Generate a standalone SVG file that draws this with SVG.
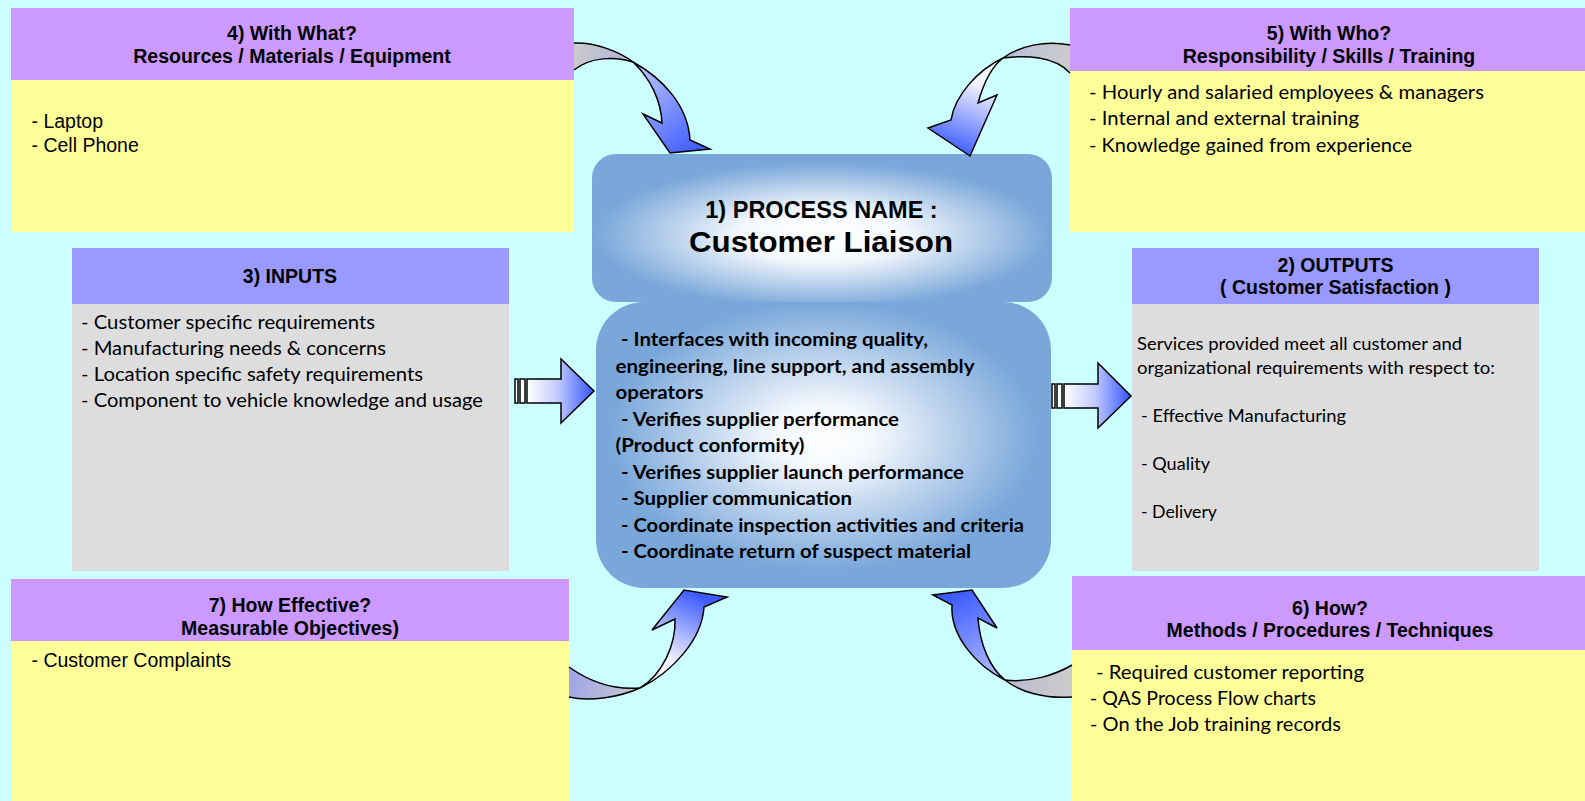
<svg xmlns="http://www.w3.org/2000/svg" width="1585" height="801" viewBox="0 0 1585 801">
<defs>
<style>
.hd{font-family:"Liberation Sans",Arial,sans-serif;font-weight:bold;font-size:19.5px;fill:#000;text-anchor:middle}
.ar{font-family:"Liberation Sans",Arial,sans-serif;font-size:19.5px;fill:#000}
.ca{font-family:Lato,"Open Sans",sans-serif;font-size:18.5px;fill:#000}
.cs{font-family:Lato,"Open Sans",sans-serif;font-size:17.5px;fill:#000}
.cb{font-family:Lato,"Open Sans",sans-serif;font-weight:bold;font-size:19px;fill:#000}
.ttl{font-family:"Liberation Sans",Arial,sans-serif;font-weight:bold;fill:#000;text-anchor:middle}
.purple{fill:#CC99FF}
.blueh{fill:#9999FF}
.yellow{fill:#FFFF99}
.grey{fill:#DDDDDD}
.arw{stroke:#000;stroke-width:1.5;stroke-linejoin:miter}
</style>
<radialGradient id="ng1" cx="0.5" cy="0.55" r="0.6">
<stop offset="0" stop-color="#FFFFFF"/>
<stop offset="0.3" stop-color="#F4F8FD"/>
<stop offset="0.82" stop-color="#7AA7DA"/>
<stop offset="1" stop-color="#7AA7DA"/>
</radialGradient>
<radialGradient id="ng2" cx="0.5" cy="0.47" r="0.55">
<stop offset="0" stop-color="#FFFFFF"/>
<stop offset="0.2" stop-color="#F4F8FD"/>
<stop offset="0.85" stop-color="#7AA7DA"/>
<stop offset="1" stop-color="#7AA7DA"/>
</radialGradient>
<linearGradient id="blk" x1="0" y1="0" x2="1" y2="0">
<stop offset="0" stop-color="#FFFFFF"/>
<stop offset="0.45" stop-color="#C4CCFF"/>
<stop offset="1" stop-color="#3355FF"/>
</linearGradient>
<linearGradient id="tlT" gradientUnits="userSpaceOnUse" x1="574" y1="56" x2="633" y2="62">
<stop offset="0" stop-color="#CACACE"/><stop offset="1" stop-color="#B0B4D8"/>
</linearGradient>
<linearGradient id="tlH" gradientUnits="userSpaceOnUse" x1="640" y1="70" x2="700" y2="150">
<stop offset="0" stop-color="#B8C0FF"/><stop offset="1" stop-color="#3D5CFF"/>
</linearGradient>
<linearGradient id="trT" gradientUnits="userSpaceOnUse" x1="1070" y1="58" x2="1003" y2="58">
<stop offset="0" stop-color="#CCCCCC"/><stop offset="1" stop-color="#B8BCDA"/>
</linearGradient>
<linearGradient id="trH" gradientUnits="userSpaceOnUse" x1="1000" y1="62" x2="965" y2="156">
<stop offset="0" stop-color="#FFFFFF"/><stop offset="0.3" stop-color="#F0F0FF"/><stop offset="1" stop-color="#3D5CFF"/>
</linearGradient>
<linearGradient id="blT" gradientUnits="userSpaceOnUse" x1="569" y1="675" x2="640" y2="692">
<stop offset="0" stop-color="#A0A4E8"/><stop offset="1" stop-color="#C8C8CC"/>
</linearGradient>
<linearGradient id="blH" gradientUnits="userSpaceOnUse" x1="645" y1="688" x2="690" y2="592">
<stop offset="0" stop-color="#FFFFFF"/><stop offset="0.35" stop-color="#F0F0FF"/><stop offset="1" stop-color="#3D5CFF"/>
</linearGradient>
<linearGradient id="brT" gradientUnits="userSpaceOnUse" x1="1072" y1="680" x2="1005" y2="682">
<stop offset="0" stop-color="#CCCCCC"/><stop offset="1" stop-color="#B8B8D0"/>
</linearGradient>
<linearGradient id="brH" gradientUnits="userSpaceOnUse" x1="1000" y1="680" x2="955" y2="595">
<stop offset="0" stop-color="#B8C0FF"/><stop offset="1" stop-color="#3D5CFF"/>
</linearGradient>
</defs>

<rect x="0" y="0" width="1585" height="801" fill="#CCFFFF"/>

<g id="node-with-what">
<rect class="purple" x="11" y="8" width="563" height="72"/>
<rect class="yellow" x="11" y="80" width="563" height="152"/>
<text class="hd" x="292" y="39.5">4) With What?</text>
<text class="hd" x="292" y="63">Resources / Materials / Equipment</text>
<text class="ar" x="31.5" y="127.5">- Laptop</text>
<text class="ar" x="31.5" y="151.5">- Cell Phone</text>
</g>

<g id="node-with-who">
<rect class="purple" x="1070" y="8" width="515" height="63"/>
<rect class="yellow" x="1070" y="71" width="515" height="161"/>
<text class="hd" x="1329" y="39.5">5) With Who?</text>
<text class="hd" x="1329" y="62.5">Responsibility / Skills / Training</text>
<text class="ca" x="1089" y="99" textLength="395" lengthAdjust="spacingAndGlyphs">- Hourly and salaried employees &amp; managers</text>
<text class="ca" x="1089" y="125" textLength="270" lengthAdjust="spacingAndGlyphs">- Internal and external training</text>
<text class="ca" x="1089" y="152" textLength="323" lengthAdjust="spacingAndGlyphs">- Knowledge gained from experience</text>
</g>

<g id="node-inputs">
<rect class="blueh" x="72" y="248" width="437" height="56"/>
<rect class="grey" x="72" y="304" width="437" height="267"/>
<text class="hd" x="290" y="283">3) INPUTS</text>
<text class="ca" x="81" y="329" textLength="294" lengthAdjust="spacingAndGlyphs">- Customer specific requirements</text>
<text class="ca" x="81" y="355" textLength="305" lengthAdjust="spacingAndGlyphs">- Manufacturing needs &amp; concerns</text>
<text class="ca" x="81" y="381" textLength="342" lengthAdjust="spacingAndGlyphs">- Location specific safety requirements</text>
<text class="ca" x="81" y="407" textLength="402" lengthAdjust="spacingAndGlyphs">- Component to vehicle knowledge and usage</text>
</g>

<g id="node-outputs">
<rect class="blueh" x="1132" y="248" width="407" height="56"/>
<rect class="grey" x="1132" y="304" width="407" height="267"/>
<text class="hd" x="1335.5" y="271.5">2) OUTPUTS</text>
<text class="hd" x="1335.5" y="294">( Customer Satisfaction )</text>
<text class="cs" x="1137" y="350" textLength="325" lengthAdjust="spacingAndGlyphs">Services provided meet all customer and</text>
<text class="cs" x="1137" y="374" textLength="358" lengthAdjust="spacingAndGlyphs">organizational requirements with respect to:</text>
<text class="cs" x="1141" y="422" textLength="205" lengthAdjust="spacingAndGlyphs">- Effective Manufacturing</text>
<text class="cs" x="1141" y="470" textLength="69" lengthAdjust="spacingAndGlyphs">- Quality</text>
<text class="cs" x="1141" y="518" textLength="76" lengthAdjust="spacingAndGlyphs">- Delivery</text>
</g>

<g id="node-how-effective">
<rect class="purple" x="11" y="579" width="558" height="62"/>
<rect class="yellow" x="11" y="641" width="558" height="160"/>
<text class="hd" x="290" y="611.5">7) How Effective?</text>
<text class="hd" x="290" y="635">Measurable Objectives)</text>
<text class="ar" x="31.5" y="666.5">- Customer Complaints</text>
</g>

<g id="node-how">
<rect class="purple" x="1072" y="576" width="513" height="74"/>
<rect class="yellow" x="1072" y="650" width="513" height="151"/>
<text class="hd" x="1330" y="615">6) How?</text>
<text class="hd" x="1330" y="637">Methods / Procedures / Techniques</text>
<text class="ca" x="1096" y="679" textLength="268" lengthAdjust="spacingAndGlyphs">- Required customer reporting</text>
<text class="ca" x="1090" y="705" textLength="226" lengthAdjust="spacingAndGlyphs">- QAS Process Flow charts</text>
<text class="ca" x="1090" y="730.5" textLength="251" lengthAdjust="spacingAndGlyphs">- On the Job training records</text>
</g>

<g id="node-process">
<rect x="592" y="154" width="460" height="148" rx="24" ry="24" fill="url(#ng1)"/>
<text class="ttl" x="821.5" y="218" font-size="23.5">1) PROCESS NAME :</text>
<text class="ttl" x="821" y="252" font-size="30" textLength="264" lengthAdjust="spacingAndGlyphs">Customer Liaison</text>
</g>

<g id="node-process-activities">
<rect x="596" y="302" width="455" height="286" rx="48" ry="48" fill="url(#ng2)"/>
<text class="cb" x="621" y="346" textLength="307" lengthAdjust="spacingAndGlyphs">- Interfaces with incoming quality,</text>
<text class="cb" x="615.5" y="372.5" textLength="359" lengthAdjust="spacingAndGlyphs">engineering, line support, and assembly</text>
<text class="cb" x="615.5" y="399" textLength="88" lengthAdjust="spacingAndGlyphs">operators</text>
<text class="cb" x="621" y="425.5" textLength="278" lengthAdjust="spacingAndGlyphs">- Verifies supplier performance</text>
<text class="cb" x="615.5" y="452" textLength="189" lengthAdjust="spacingAndGlyphs">(Product conformity)</text>
<text class="cb" x="621" y="478.5" textLength="343" lengthAdjust="spacingAndGlyphs">- Verifies supplier launch performance</text>
<text class="cb" x="621" y="505" textLength="231" lengthAdjust="spacingAndGlyphs">- Supplier communication</text>
<text class="cb" x="621" y="531.5" textLength="403" lengthAdjust="spacingAndGlyphs">- Coordinate inspection activities and criteria</text>
<text class="cb" x="621" y="558" textLength="350" lengthAdjust="spacingAndGlyphs">- Coordinate return of suspect material</text>
</g>

<g id="connectors">
<!-- inputs block arrow -->
<rect class="arw" x="515" y="379" width="3" height="24" fill="#FFFFFF"/>
<rect class="arw" x="520" y="379" width="5" height="24" fill="#FFFFFF"/>
<polygon class="arw" points="527,379 561,379 561,359 594,391 561,423 561,403 527,403" fill="url(#blk)"/>
<!-- outputs block arrow -->
<rect class="arw" x="1052" y="384" width="3" height="24" fill="#FFFFFF"/>
<rect class="arw" x="1057" y="384" width="5" height="24" fill="#FFFFFF"/>
<polygon class="arw" points="1064,384 1098,384 1098,363 1131,396 1098,428 1098,408 1064,408" fill="url(#blk)"/>
<!-- top-left curved arrow -->
<path class="arw" d="M574,43 C595,42 620,52 633,62 C615,56 590,57 574,70" fill="url(#tlT)"/>
<path class="arw" d="M633,62 C662,78 688,105 690,140 L710,149 L670,153 L643,114 L662,123 C661,100 650,78 633,62 Z" fill="url(#tlH)"/>
<!-- top-right curved arrow -->
<path class="arw" d="M1070,45 C1045,40 1020,46 1003,58 C1025,55 1055,56 1070,73" fill="url(#trT)"/>
<path class="arw" d="M1003,58 C978,70 955,95 951,120 L928,128 L970,156 L997,95 L978,103 C983,85 990,68 1003,58 Z" fill="url(#trH)"/>
<!-- bottom-left curved arrow -->
<path class="arw" d="M569,667 C590,682 615,690 640,688 C620,697 590,702 569,697" fill="url(#blT)"/>
<path class="arw" d="M640,688 C672,672 702,640 704,607 L727,597 L684,590 L652,630 L675,619 C676,645 662,675 640,688 Z" fill="url(#blH)"/>
<!-- bottom-right curved arrow -->
<path class="arw" d="M1072,665 C1055,675 1030,683 1005,680 C1020,692 1045,699 1072,697" fill="url(#brT)"/>
<path class="arw" d="M1005,680 C975,665 950,635 952,605 L933,595 L972,590 L997,628 L978,618 C980,645 990,668 1005,680 Z" fill="url(#brH)"/>
</g>
</svg>
